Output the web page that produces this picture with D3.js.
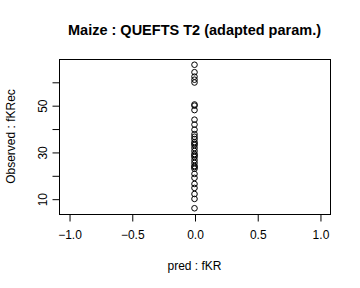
<!DOCTYPE html>
<html>
<head>
<meta charset="utf-8">
<script src="https://cdn.jsdelivr.net/npm/d3@7"></script>
<style>
  body { margin: 0; background: #fff; }
  text { font-family: "Liberation Sans", Arial, sans-serif; fill: #000; }
</style>
</head>
<body>
<div id="chart"></div>
<script>
// observed fKRec values, all predicted fKR = 0
const observed = [67.3, 64.1, 62.2, 60.9, 59.7, 50.3, 49.8, 47.9, 43.8, 41.7,
  39.5, 37.6, 36.5, 35.5, 34.2, 33.5, 32.9, 31.7, 30.4, 29.1, 28.5, 27.8,
  26.5, 25.3, 24.0, 23.5, 22.8, 20.6, 18.9, 16.3, 14.6, 12.0, 9.9, 5.9];
const predicted = observed.map(() => 0);
const xTicks = [-1.0, -0.5, 0.0, 0.5, 1.0];
const yTicks = [10, 20, 30, 40, 50, 60];
const yLabelTicks = [10, 30, 50];

const width = 360, height = 288;
const margin = { top: 59, right: 30, bottom: 74, left: 59 };

const svg = d3.select("#chart").append("svg")
  .attr("width", width)
  .attr("height", height);

// R style axis range: data range padded by 4%
const pad = ([a, b]) => [a - (b - a) * 0.04, b + (b - a) * 0.04];

const x = d3.scaleLinear()
  .domain(pad([-1, 1]))
  .range([margin.left, width - margin.right]);

const y = d3.scaleLinear()
  .domain(pad(d3.extent(observed)))
  .range([height - margin.bottom, margin.top]);

// box
svg.append("rect")
  .attr("x", margin.left + 0.5)
  .attr("y", margin.top + 0.5)
  .attr("width", width - margin.left - margin.right)
  .attr("height", height - margin.top - margin.bottom)
  .attr("fill", "none")
  .attr("stroke", "#000");

// x axis
svg.append("g")
  .attr("transform", `translate(0.5,${height - margin.bottom + 0.5})`)
  .call(d3.axisBottom(x).tickValues(xTicks).tickSize(7).tickPadding(9)
    .tickFormat(d3.format(".1f")))
  .call(g => g.select(".domain").remove())
  .call(g => g.selectAll("text").attr("font-size", 12));

// y axis
const ya = svg.append("g")
  .attr("transform", `translate(${margin.left + 0.5},0.5)`)
  .call(d3.axisLeft(y).tickValues(yTicks).tickSize(7).tickFormat(""))
  .call(g => g.select(".domain").remove());

ya.selectAll(".tick")
  .filter(d => yLabelTicks.includes(d))
  .append("text")
  .attr("transform", "translate(-13,0) rotate(-90)")
  .attr("text-anchor", "middle")
  .attr("font-size", 12)
  .text(d => d);

// points
svg.append("g")
  .selectAll("circle")
  .data(observed)
  .join("circle")
  .attr("cx", (d, i) => x(predicted[i]))
  .attr("cy", d => y(d))
  .attr("r", 2.8)
  .attr("fill", "none")
  .attr("stroke", "#000")
  .attr("stroke-width", 1);

// titles
svg.append("text")
  .attr("x", (margin.left + width - margin.right) / 2)
  .attr("y", 35)
  .attr("text-anchor", "middle")
  .attr("font-size", 14.5)
  .attr("font-weight", "bold")
  .text("Maize : QUEFTS T2 (adapted param.)");

svg.append("text")
  .attr("x", (margin.left + width - margin.right) / 2)
  .attr("y", 270)
  .attr("text-anchor", "middle")
  .attr("font-size", 12)
  .text("pred : fKR");

svg.append("text")
  .attr("transform", `translate(15,${(margin.top + height - margin.bottom) / 2}) rotate(-90)`)
  .attr("text-anchor", "middle")
  .attr("font-size", 12)
  .text("Observed : fKRec");
</script>
</body>
</html>
